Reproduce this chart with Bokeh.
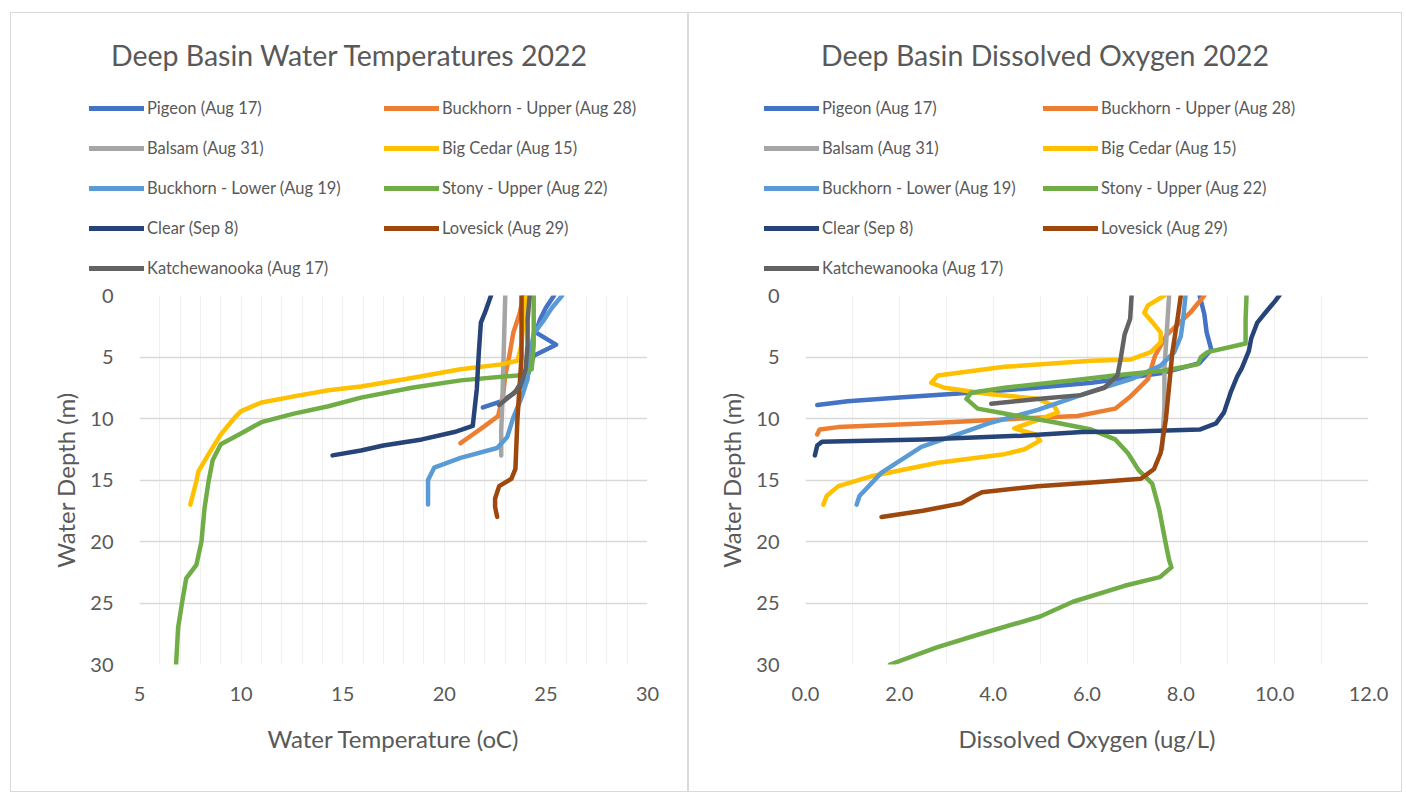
from bokeh.plotting import figure
from bokeh.models import Range1d, FixedTicker, NumeralTickFormatter, Div
from bokeh.layouts import row, column
from bokeh.embed import file_html
from bokeh.resources import INLINE

# ---------------------------------------------------------------------------
# Lakes, in legend order, and their line colours
# ---------------------------------------------------------------------------
LAKES = [
    "Pigeon (Aug 17)", "Buckhorn - Upper (Aug 28)",
    "Balsam (Aug 31)", "Big Cedar (Aug 15)",
    "Buckhorn - Lower (Aug 19)", "Stony - Upper (Aug 22)",
    "Clear (Sep 8)", "Lovesick (Aug 29)",
    "Katchewanooka (Aug 17)",
]
COLORS = ["#4472C4", "#ED7D31", "#A5A5A5", "#FFC000", "#5B9BD5",
          "#70AD47", "#264478", "#9E480E", "#636363"]

DEPTH_TICKS = [0, 5, 10, 15, 20, 25, 30]
TEMP_TICKS = [5, 10, 15, 20, 25, 30]
DO_TICKS = [0, 2, 4, 6, 8, 10, 12]

# ---------------------------------------------------------------------------
# Water temperature profiles: depth (m) and temperature (oC)
# ---------------------------------------------------------------------------
pigeon_t_depth = [0, 1, 2, 3, 4, 4.9, 6, 7, 8, 8.6, 9.1]
pigeon_t = [25.4, 25.0, 24.7, 24.5, 25.5, 24.4, 24.2, 24.0, 23.4, 22.8, 21.9]

buck_up_t_depth = [0, 1.5, 3, 4.9, 6.5, 8, 9.8, 10.6, 11.3, 12]
buck_up_t = [23.9, 23.7, 23.4, 23.2, 23.0, 22.9, 22.65, 22.0, 21.4, 20.8]

balsam_t_depth = [0, 3, 6, 9, 11, 13]
balsam_t = [23.0, 22.95, 22.9, 22.85, 22.8, 22.8]

cedar_t_depth = [0, 2, 4, 5.3, 5.6, 6.0, 6.7, 7.4, 7.7, 8.2, 8.7, 9.4, 9.9,
                 11.3, 12.9, 14.3, 15.1, 17.0]
cedar_t = [24.0, 23.9, 23.8, 23.6, 22.8, 20.8, 18.4, 15.9, 14.3, 12.6, 11.0,
           10.0, 9.7, 9.0, 8.4, 7.9, 7.8, 7.5]

buck_low_t_depth = [0, 1, 2, 3.1, 5, 6.8, 8.3, 9.9, 11.5, 12.4, 13.2, 14.0,
                    15.0, 17.0]
buck_low_t = [25.8, 25.3, 24.9, 24.4, 24.2, 24.1, 23.8, 23.4, 23.1, 22.6,
              20.8, 19.5, 19.2, 19.2]

stony_t_depth = [0, 2, 4, 6, 6.5, 6.9, 7.5, 8.3, 9.0, 9.6, 10.3, 11.3, 12.1,
                 13.4, 15.1, 17.3, 20.0, 21.9, 23.0, 24.9, 27.0, 30.0]
stony_t = [24.4, 24.4, 24.4, 24.3, 23.6, 20.8, 18.4, 15.9, 14.3, 12.6, 11.0,
           9.9, 9.0, 8.6, 8.4, 8.2, 8.05, 7.8, 7.3, 7.1, 6.9, 6.8]

clear_t_depth = [0, 1.4, 2.2, 4.6, 7.6, 10.6, 11.1, 11.7, 12.2, 12.6, 13.0]
clear_t = [22.3, 22.0, 21.8, 21.7, 21.6, 21.4, 20.5, 18.9, 17.0, 15.9, 14.5]

lovesick_t_depth = [0, 5, 10, 14.1, 14.9, 15.5, 16.5, 17.2, 18.0]
lovesick_t = [23.8, 23.8, 23.6, 23.5, 23.3, 22.7, 22.5, 22.5, 22.6]

katch_t_depth = [0, 2, 4, 6, 7, 7.8, 8.5, 8.9]
katch_t = [24.2, 24.1, 24.1, 24.0, 23.8, 23.5, 23.0, 22.7]

# ---------------------------------------------------------------------------
# Dissolved oxygen profiles: depth (m) and dissolved oxygen
# ---------------------------------------------------------------------------
pigeon_do_depth = [0, 1.5, 3, 4.4, 5.5, 6.3, 7.1, 7.6, 7.9, 8.3, 8.6, 8.9]
pigeon_do = [8.4, 8.5, 8.55, 8.65, 8.4, 7.6, 6.1, 4.6, 3.5, 2.0, 0.9, 0.25]

buck_up_do_depth = [0, 1.4, 3.2, 4.9, 6.8, 8.3, 9.2, 9.8, 10.0, 10.4, 10.7,
                    10.9, 11.3]
buck_up_do = [8.5, 8.2, 7.7, 7.45, 7.3, 6.9, 6.6, 5.8, 4.6, 2.5, 0.7, 0.3,
              0.25]

balsam_do_depth = [0, 3, 6, 9, 12.5]
balsam_do = [7.75, 7.7, 7.65, 7.65, 7.6]

cedar_do_depth = [0, 0.8, 1.4, 2.2, 3.0, 3.8, 4.6, 5.2, 5.3, 5.8, 6.5, 7.1,
                  7.5, 8.0, 8.4, 9.0, 9.5, 10.2, 10.8, 11.3, 11.8, 12.5, 12.9,
                  13.6, 14.7, 15.5, 16.3, 17.0]
cedar_do = [7.65, 7.3, 7.22, 7.4, 7.57, 7.57, 7.36, 6.94, 6.1, 4.24, 2.82,
            2.68, 2.96, 3.9, 4.95, 5.3, 5.38, 4.9, 4.45, 4.9, 5.0, 4.67, 4.24,
            2.82, 1.4, 0.7, 0.45, 0.38]

buck_low_do_depth = [0, 1.9, 3.3, 4.6, 5.7, 6.8, 7.8, 9.3, 10.4, 10.9, 12.3,
                     14.4, 16.3, 17.0]
buck_low_do = [8.1, 8.05, 8.0, 7.86, 7.57, 6.94, 6.1, 4.95, 3.9, 3.53, 2.47,
               1.62, 1.15, 1.09]

stony_do_depth = [0, 2, 3.9, 4.6, 5.0, 5.6, 6.1, 6.5, 6.8, 7.5, 7.9, 8.4,
                  9.2, 9.6, 10.3, 10.9, 11.7, 12.8, 14.2, 15.3, 17.4, 20.2,
                  21.5, 22.1, 22.9, 23.6, 24.9, 26.1, 27.5, 28.6, 30.0]
stony_do = [9.4, 9.38, 9.38, 8.57, 8.43, 8.36, 7.64, 6.58, 5.9, 4.24, 3.53,
            3.43, 3.67, 4.24, 5.3, 6.09, 6.6, 6.87, 7.1, 7.39, 7.54, 7.68,
            7.75, 7.8, 7.55, 6.8, 5.7, 5.0, 3.74, 2.8, 1.8]

clear_do_depth = [0, 0.5, 1.4, 2.2, 3.5, 4.5, 5.9, 6.6, 7.9, 9.5, 10.4, 10.9,
                  11.05, 11.1, 11.4, 11.7, 11.9, 12.2, 13.0]
clear_do = [10.1, 10.0, 9.8, 9.63, 9.5, 9.45, 9.3, 9.2, 9.06, 8.92, 8.75,
            8.4, 7.0, 5.9, 4.6, 2.5, 0.35, 0.25, 0.2]

lovesick_do_depth = [0, 1.9, 4.6, 7.4, 10.1, 12.8, 14.1, 14.9, 15.2, 15.5,
                     16.0, 16.3, 16.9, 17.5, 18.0]
lovesick_do = [8.0, 7.93, 7.82, 7.75, 7.68, 7.57, 7.43, 7.15, 6.1, 4.95,
               3.76, 3.6, 3.32, 2.5, 1.62]

katch_do_depth = [0, 1.9, 3.2, 5.1, 6.5, 7.5, 8.1, 8.4, 8.8]
katch_do = [6.95, 6.92, 6.8, 6.72, 6.65, 6.37, 5.87, 5.0, 3.96]

TEMP_PROFILES = [
    (pigeon_t, pigeon_t_depth), (buck_up_t, buck_up_t_depth),
    (balsam_t, balsam_t_depth), (cedar_t, cedar_t_depth),
    (buck_low_t, buck_low_t_depth), (stony_t, stony_t_depth),
    (clear_t, clear_t_depth), (lovesick_t, lovesick_t_depth),
    (katch_t, katch_t_depth),
]
DO_PROFILES = [
    (pigeon_do, pigeon_do_depth), (buck_up_do, buck_up_do_depth),
    (balsam_do, balsam_do_depth), (cedar_do, cedar_do_depth),
    (buck_low_do, buck_low_do_depth), (stony_do, stony_do_depth),
    (clear_do, clear_do_depth), (lovesick_do, lovesick_do_depth),
    (katch_do, katch_do_depth),
]

FONT = "Lato"
TEXT = "#595959"
HEADER_H = 270
CHART_H = 508


def make_header(title, width, col_x):
    """Panel title plus a two-column legend (filled row by row)."""
    parts = [
        f'<div style="position:relative;width:{width}px;height:{HEADER_H}px;'
        f'font-family:{FONT};color:{TEXT};">',
        f'<div style="position:absolute;left:0;top:24px;width:{width}px;'
        f'text-align:center;font-size:28.5px;line-height:36px;'
        f'white-space:nowrap;">{title}</div>',
    ]
    for i, (name, color) in enumerate(zip(LAKES, COLORS)):
        x = col_x[i % 2]
        y = 85 + 40 * (i // 2)
        parts.append(
            f'<div style="position:absolute;left:{x}px;top:{y}px;height:20px;'
            f'line-height:20px;font-size:16.5px;white-space:nowrap;">'
            f'<span style="display:inline-block;width:55px;height:5px;'
            f'background:{color};vertical-align:middle;margin-right:3px;'
            f'position:relative;top:-1px;"></span>{name}</div>')
    parts.append('</div>')
    return Div(text="".join(parts), width=width, height=HEADER_H, margin=0,
               styles={"background": "white"})


def make_chart(x_label, x_start, x_end, x_ticks, fmt, profiles, width,
               b_left, b_right):
    p = figure(width=width, height=CHART_H,
               x_range=Range1d(x_start, x_end), y_range=Range1d(30, 0),
               output_backend="svg", toolbar_location=None,
               min_border_left=b_left, min_border_right=b_right,
               min_border_top=12, min_border_bottom=127)
    p.margin = 0
    p.outline_line_color = None
    p.background_fill_color = "white"
    p.border_fill_color = "white"

    p.xaxis.ticker = FixedTicker(ticks=x_ticks)
    p.yaxis.ticker = FixedTicker(ticks=DEPTH_TICKS)
    if fmt:
        p.xaxis.formatter = NumeralTickFormatter(format=fmt)
    for ax in (p.xaxis[0], p.yaxis[0]):
        ax.axis_line_color = None
        ax.major_tick_line_color = None
        ax.minor_tick_line_color = None
        ax.major_label_text_font = FONT
        ax.major_label_text_font_size = "20px"
        ax.major_label_text_color = TEXT
        ax.axis_label_text_font = FONT
        ax.axis_label_text_font_size = "24px"
        ax.axis_label_text_font_style = "normal"
        ax.axis_label_text_color = TEXT
    p.xaxis.major_label_standoff = 16
    p.yaxis.major_label_standoff = 20
    p.xaxis.axis_label = x_label
    p.xaxis.axis_label_standoff = 20
    p.yaxis.axis_label = "Water Depth (m)"
    p.yaxis.axis_label_standoff = 7

    # depth lines every 5 m, faint vertical lines every unit
    p.ygrid.ticker = FixedTicker(ticks=DEPTH_TICKS)
    p.ygrid.grid_line_color = "#d9d9d9"
    p.ygrid.grid_line_width = 1.5
    n = int(round(x_end - x_start))
    p.xgrid.ticker = FixedTicker(ticks=[x_start + i for i in range(n + 1)])
    p.xgrid.grid_line_color = "#efefef"
    p.xgrid.grid_line_width = 1

    for name, color, (vals, depths) in zip(LAKES, COLORS, profiles):
        p.line(x=vals, y=depths, line_color=color, line_width=4.5,
               line_cap="round", line_join="round", name=name)
    return p


def make_panel(title, x_label, x_start, x_end, x_ticks, fmt, profiles,
               width, b_left, b_right, col_x):
    head = make_header(title, width, col_x)
    chart = make_chart(x_label, x_start, x_end, x_ticks, fmt, profiles,
                       width, b_left, b_right)
    panel = column(head, chart, spacing=0)
    panel.styles = {"border": "1px solid #d9d9d9", "background": "white"}
    return panel


panel_temp = make_panel("Deep Basin Water Temperatures 2022",
                        "Water Temperature (oC)", 5, 30, TEMP_TICKS, None,
                        TEMP_PROFILES, 676, 128, 40, (78, 373))
panel_temp.margin = (12, 0, 0, 10)

panel_do = make_panel("Deep Basin Dissolved Oxygen 2022",
                      "Dissolved Oxygen (ug/L)", 0, 12, DO_TICKS, "0.0",
                      DO_PROFILES, 712, 116, 33, (75, 354))
panel_do.margin = (12, 0, 0, 0)

layout = row(panel_temp, panel_do, spacing=0)
open("out.html", "w").write(file_html(layout, INLINE))
